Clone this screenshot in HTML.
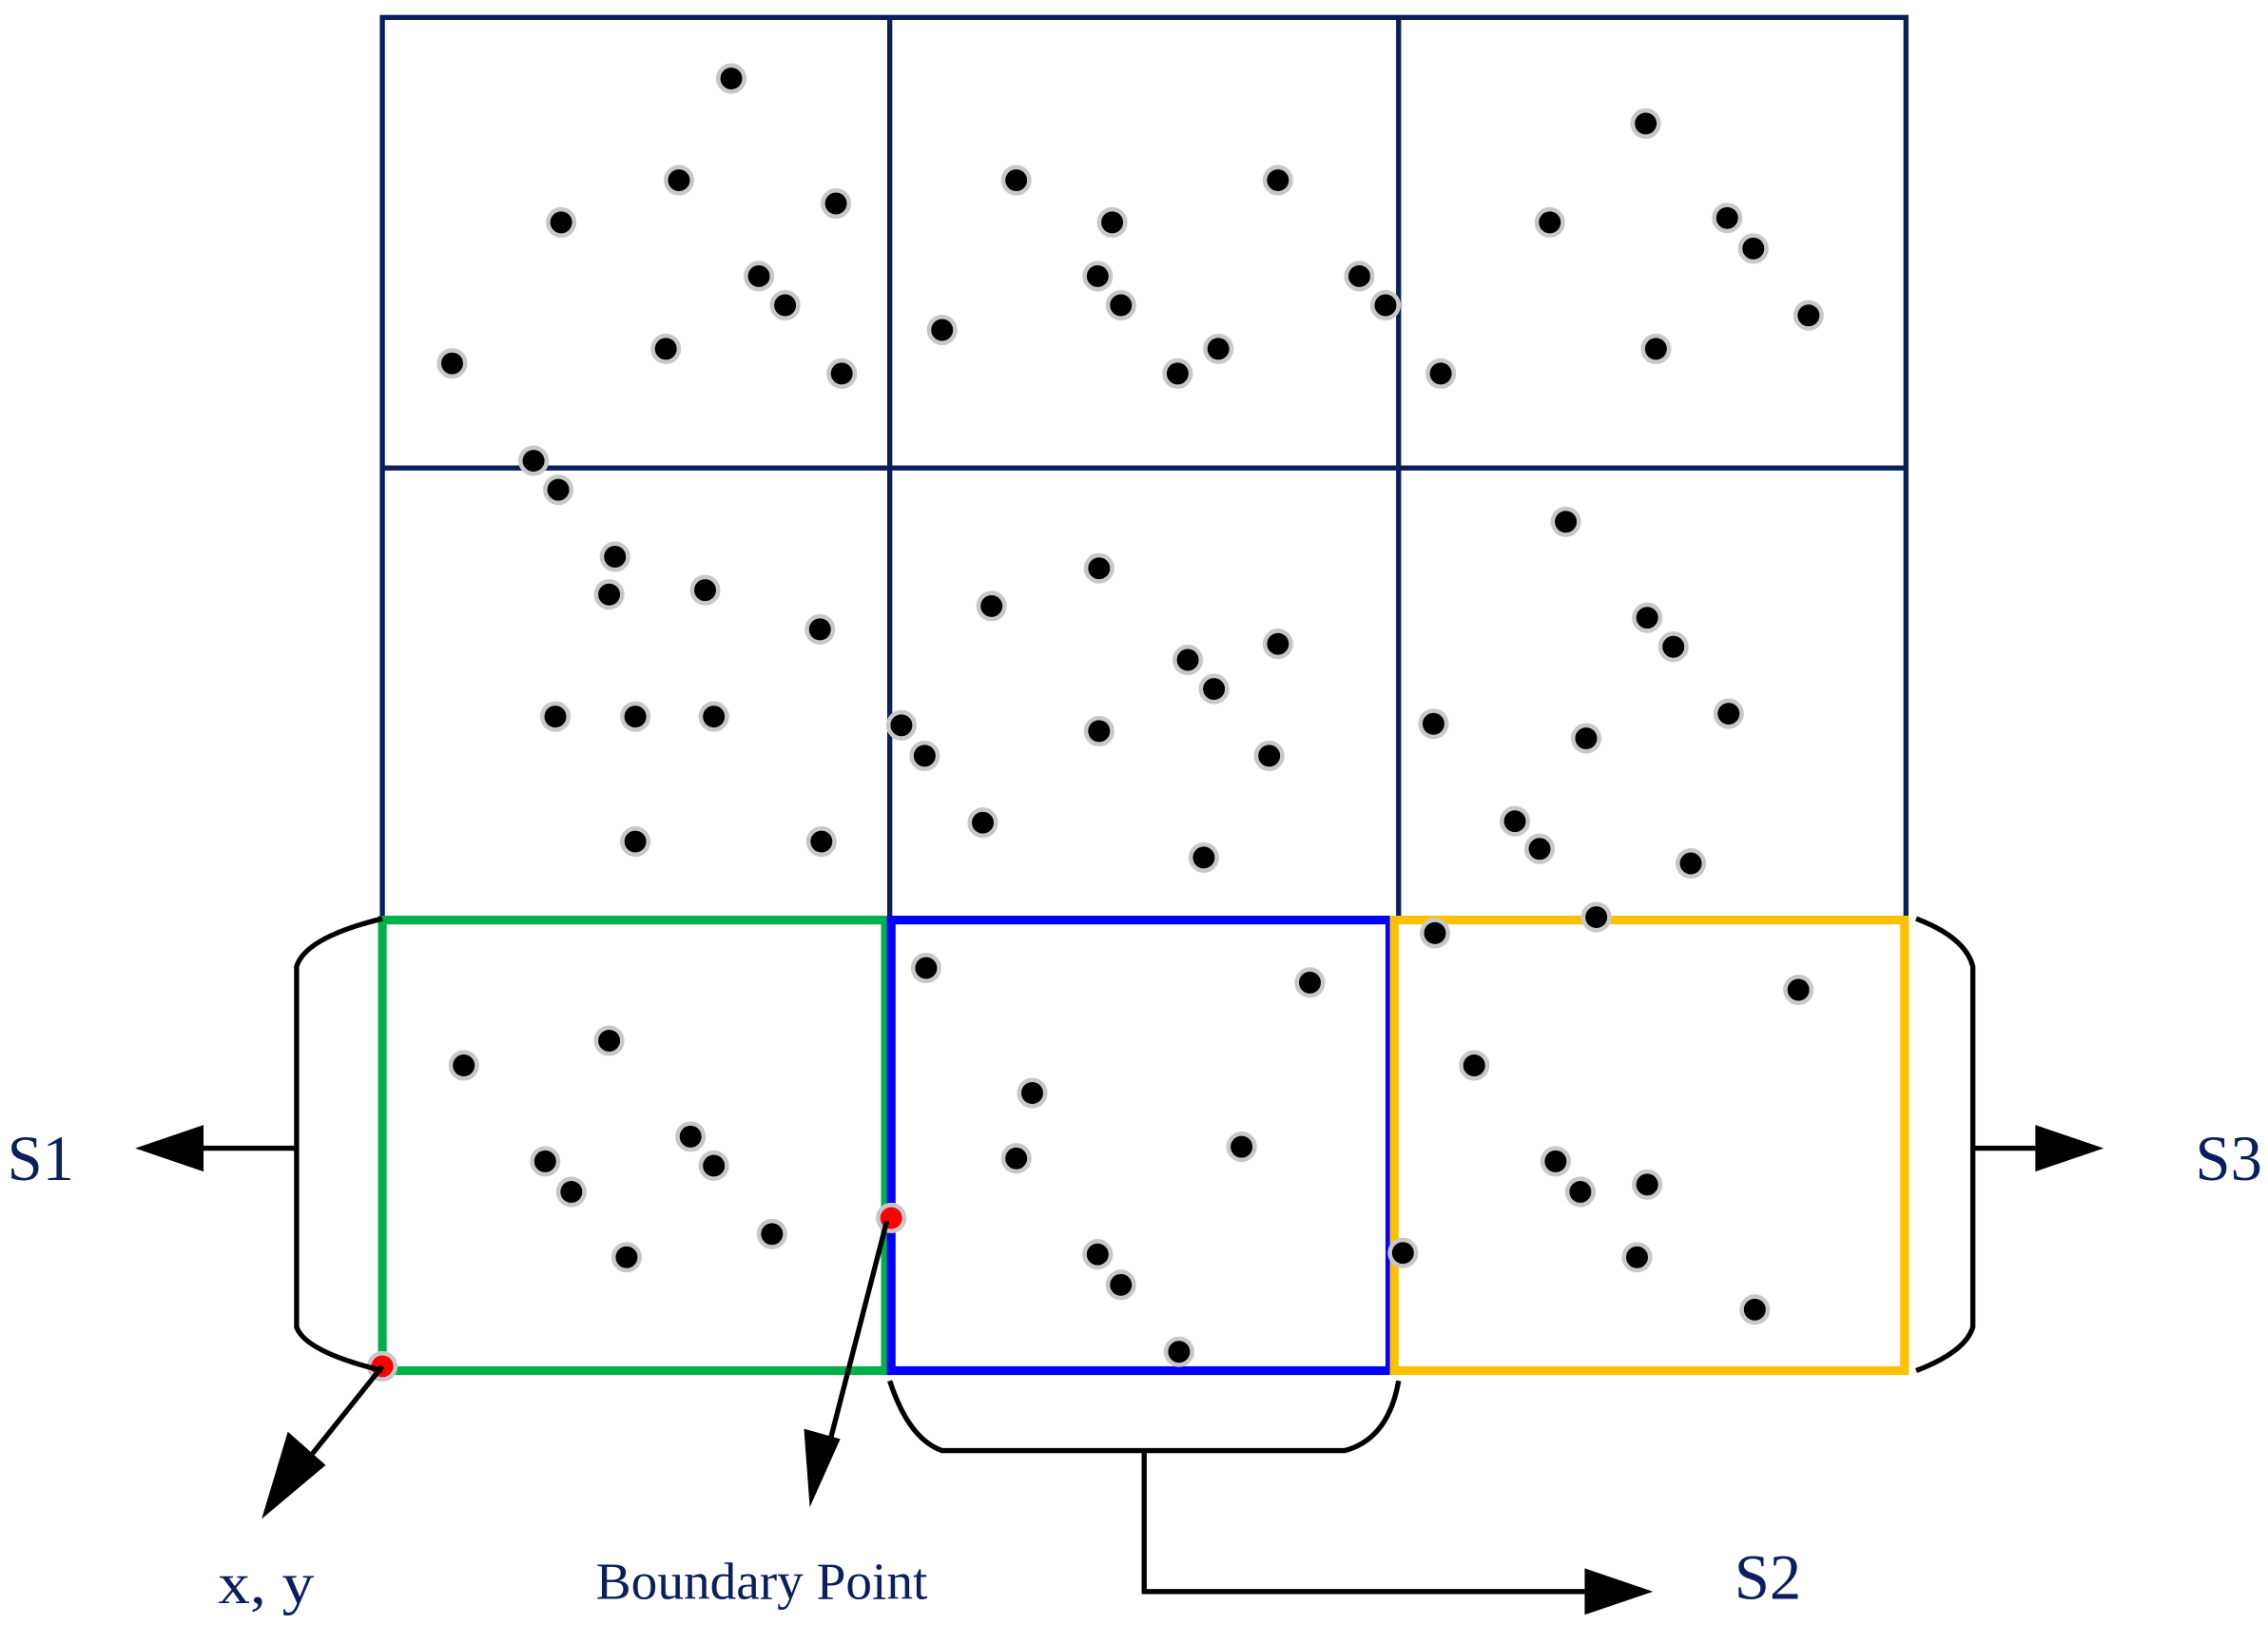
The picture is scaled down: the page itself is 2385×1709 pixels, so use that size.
<!DOCTYPE html>
<html><head><meta charset="utf-8"><style>html,body{margin:0;padding:0;background:#fff;width:2385px;height:1709px;overflow:hidden}svg{display:block}text{font-family:"Liberation Serif",serif;fill:#0a1f5c}</style></head><body>
<svg width="2385" height="1709" viewBox="0 0 1560 1118" preserveAspectRatio="none" xmlns="http://www.w3.org/2000/svg">
<g stroke="#0a1f5c" stroke-width="3.5" fill="none">
<rect x="263" y="12" width="1048" height="620"/>
<line x1="612" y1="12" x2="612" y2="632"/><line x1="962" y1="12" x2="962" y2="632"/>
<line x1="263" y1="322" x2="1311" y2="322"/>
</g>
<rect x="263" y="633" width="346" height="310" fill="none" stroke="#00b04a" stroke-width="6"/>
<rect x="613" y="633" width="343" height="310" fill="none" stroke="#0000ff" stroke-width="6"/>
<rect x="959" y="633" width="351" height="310" fill="none" stroke="#ffc000" stroke-width="6"/>
<g fill="#000" stroke="#c8c8c8" stroke-width="3">
<circle cx="503" cy="54" r="9"/><circle cx="467" cy="124" r="9"/><circle cx="386" cy="153" r="9"/><circle cx="575" cy="140" r="9"/><circle cx="522" cy="190" r="9"/><circle cx="540" cy="210" r="9"/><circle cx="458" cy="240" r="9"/><circle cx="311" cy="250" r="9"/><circle cx="579" cy="257" r="9"/>
<circle cx="699" cy="124" r="9"/><circle cx="879" cy="124" r="9"/><circle cx="765" cy="153" r="9"/><circle cx="755" cy="190" r="9"/><circle cx="771" cy="210" r="9"/><circle cx="935" cy="190" r="9"/><circle cx="953" cy="210" r="9"/><circle cx="648" cy="227" r="9"/><circle cx="838" cy="240" r="9"/><circle cx="810" cy="257" r="9"/>
<circle cx="1132" cy="85" r="9"/><circle cx="1066" cy="153" r="9"/><circle cx="1188" cy="150" r="9"/><circle cx="1206" cy="171" r="9"/><circle cx="1244" cy="217" r="9"/><circle cx="1139" cy="240" r="9"/><circle cx="991" cy="257" r="9"/>
<circle cx="367" cy="317" r="9"/><circle cx="384" cy="337" r="9"/><circle cx="423" cy="383" r="9"/><circle cx="419" cy="409" r="9"/><circle cx="485" cy="406" r="9"/><circle cx="564" cy="433" r="9"/><circle cx="382" cy="493" r="9"/><circle cx="437" cy="493" r="9"/><circle cx="491" cy="493" r="9"/><circle cx="437" cy="579" r="9"/><circle cx="565" cy="579" r="9"/>
<circle cx="756" cy="391" r="9"/><circle cx="682" cy="417" r="9"/><circle cx="817" cy="454" r="9"/><circle cx="835" cy="474" r="9"/><circle cx="879" cy="443" r="9"/><circle cx="620" cy="499" r="9"/><circle cx="636" cy="520" r="9"/><circle cx="756" cy="503" r="9"/><circle cx="873" cy="520" r="9"/><circle cx="676" cy="566" r="9"/><circle cx="828" cy="590" r="9"/>
<circle cx="1077" cy="359" r="9"/><circle cx="1133" cy="425" r="9"/><circle cx="1151" cy="445" r="9"/><circle cx="1189" cy="491" r="9"/><circle cx="986" cy="498" r="9"/><circle cx="1091" cy="508" r="9"/><circle cx="1042" cy="565" r="9"/><circle cx="1059" cy="584" r="9"/><circle cx="1163" cy="594" r="9"/><circle cx="1098" cy="631" r="9"/><circle cx="987" cy="642" r="9"/>
<circle cx="319" cy="733" r="9"/><circle cx="419" cy="716" r="9"/><circle cx="475" cy="782" r="9"/><circle cx="491" cy="802" r="9"/><circle cx="375" cy="799" r="9"/><circle cx="393" cy="820" r="9"/><circle cx="531" cy="849" r="9"/><circle cx="431" cy="865" r="9"/>
<circle cx="637" cy="666" r="9"/><circle cx="901" cy="676" r="9"/><circle cx="710" cy="752" r="9"/><circle cx="699" cy="797" r="9"/><circle cx="854" cy="789" r="9"/><circle cx="755" cy="863" r="9"/><circle cx="771" cy="884" r="9"/><circle cx="811" cy="930" r="9"/><circle cx="965" cy="862" r="9"/>
<circle cx="1237" cy="681" r="9"/><circle cx="1014" cy="733" r="9"/><circle cx="1070" cy="799" r="9"/><circle cx="1087" cy="820" r="9"/><circle cx="1133" cy="815" r="9"/><circle cx="1126" cy="865" r="9"/><circle cx="1207" cy="901" r="9"/>
<circle cx="263" cy="940" r="9" fill="#f00"/><circle cx="613" cy="838" r="9" fill="#f00"/>
</g>
<g stroke="#000" stroke-width="3.5" fill="none">
<path d="M263,632 Q210,645 204,665 L204,913 Q210,930 263,943"/>
<path d="M1318,632 Q1352,645 1357,665 L1357,913 Q1352,930 1318,943"/>
<path d="M612,950 Q625,990 648,998 L925,998 Q955,990 962,950"/>
<line x1="204" y1="790" x2="140" y2="790"/>
<line x1="1357" y1="790" x2="1400" y2="790"/>
<polyline points="787,998 787,1095 1095,1095"/>
<line x1="263" y1="940" x2="215" y2="1000"/>
<line x1="610" y1="840" x2="570" y2="995"/>
</g>
<g fill="#000">
<polygon points="93,790 140,774 140,806"/>
<polygon points="1447,790 1400,774 1400,806"/>
<polygon points="1137,1095 1090,1079 1090,1111"/>
<polygon points="180,1045 198,985 224,1008"/>
<polygon points="557,1037 553,983 578,990"/>
</g>
<g font-size="44"><text x="5" y="812" textLength="46" lengthAdjust="spacingAndGlyphs">S1</text>
<text x="1510" y="812" textLength="46" lengthAdjust="spacingAndGlyphs">S3</text>
<text x="1193" y="1100" textLength="46" lengthAdjust="spacingAndGlyphs">S2</text></g>
<text x="150" y="1103" font-size="40" textLength="66" lengthAdjust="spacingAndGlyphs">x, y</text>
<text x="410" y="1100" font-size="36" textLength="228" lengthAdjust="spacingAndGlyphs">Boundary Point</text>
</svg>
</body></html>
